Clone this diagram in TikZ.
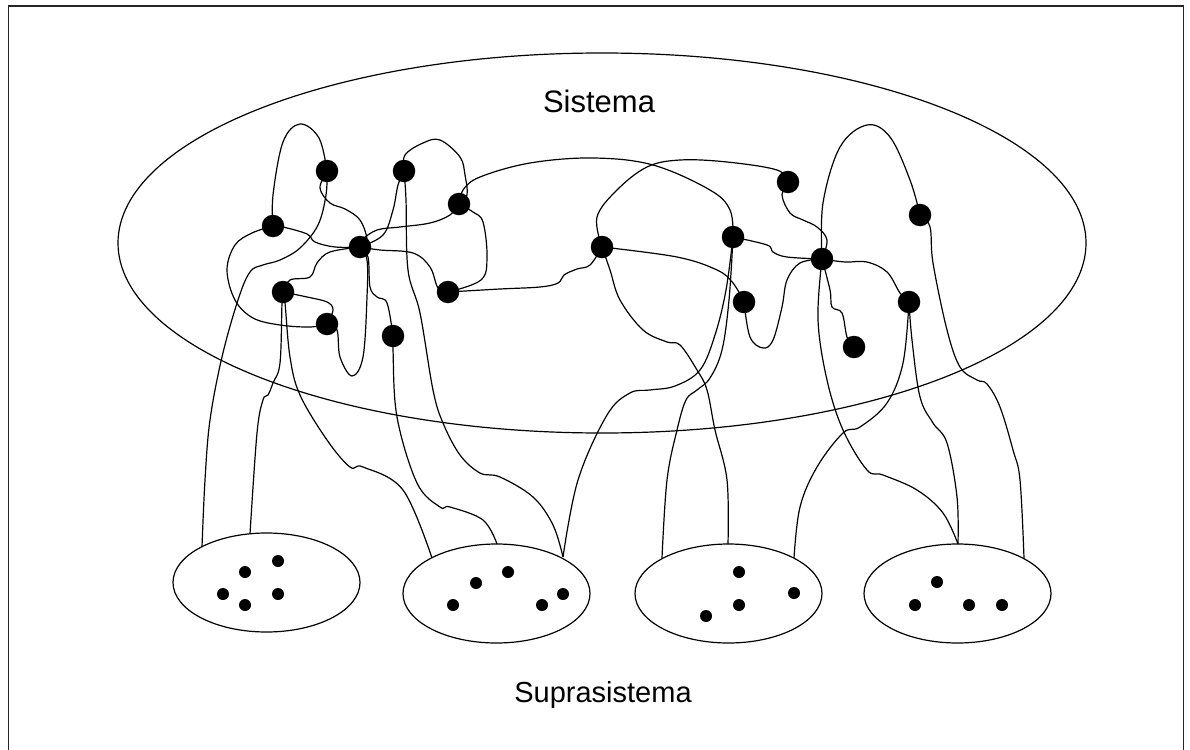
\documentclass[tikz,border=0pt]{standalone}
\usepackage{fontspec}
\setmainfont{Liberation Sans}
\usetikzlibrary{shapes.geometric}
\begin{document}
\begin{tikzpicture}[x=1pt,y=-1pt,
  wire/.style={line width=1.2pt},
  bigdot/.style={circle,fill=black,inner sep=0pt,minimum size=22.5pt},
  smalldot/.style={circle,fill=black,inner sep=0pt,minimum size=12pt},
  cluster/.style={draw,ellipse,line width=1.2pt,inner sep=0pt,minimum width=187pt,minimum height=99pt},
  headline/.style={font=\fontsize{29}{33}\selectfont}]
\useasboundingbox (0,0) rectangle (1190,749);
% outer frame
\draw[line width=1.5pt,black!85] (8.5,760) -- (8.5,6) -- (1183.5,6) -- (1183.5,760);

% the system and the four subsystems of the suprasystem
\node[draw,ellipse,line width=1.2pt,inner sep=0pt,minimum width=968pt,minimum height=380pt] (sys) at (602,243) {};
\node[headline,font=\fontsize{31}{35}\selectfont] (tsys) at (599,101) {Sistema};
\node[headline] (tsup) at (603,695) {Suprasistema};

\node[cluster] (g1) at (266.5,582.5) {};
\node[cluster] (g2) at (496.5,593.5) {};
\node[cluster] (g3) at (728.5,593.5) {};
\node[cluster] (g4) at (957.5,593.5) {};

% attachment points on the subsystems
\coordinate (g1a) at (202,547);
\coordinate (g1b) at (250,534);
\coordinate (g2a) at (432,558);
\coordinate (g2b) at (497,544);
\coordinate (g2c) at (563,557);
\coordinate (g3a) at (662,558);
\coordinate (g3b) at (728,544);
\coordinate (g3c) at (794,558);
\coordinate (g4a) at (958,544);
\coordinate (g4b) at (1024,558);

% element positions
\coordinate (A) at (327,171);
\coordinate (B) at (404,171);
\coordinate (C) at (459,204);
\coordinate (D) at (273,226);
\coordinate (E) at (360,247);
\coordinate (F) at (283,292);
\coordinate (G) at (327,324);
\coordinate (H) at (393,336);
\coordinate (I) at (448,292);
\coordinate (J) at (602,247);
\coordinate (K) at (733,237);
\coordinate (L) at (744,302);
\coordinate (M) at (788,182);
\coordinate (N) at (822,259);
\coordinate (O) at (920,215);
\coordinate (P) at (909,302);
\coordinate (Q) at (854,347);

% relations
\begin{scope}[wire]
\draw plot[smooth,tension=0.6] coordinates {(D) (273,195) (283,142) (300,124) (319,138) (A)};
\draw plot[smooth,tension=0.6] coordinates {(A) (320,188) (330,203) (345,209) (360,220) (367,240) (E)};
\draw plot[smooth,tension=0.6] coordinates {(A) (326,195) (318,225) (300,248) (280,260) (263,265) (250,272) (238,300) (222,357) (210,420) (205,480) (g1a)};
\draw plot[smooth,tension=0.6] coordinates {(D) (283,227) (307,234) (315,242) (335,247) (E)};
\draw plot[smooth,tension=0.6] coordinates {(D) (252,233) (235,245) (227,270) (235,300) (253,318) (280,325) (310,327) (G)};
\draw plot[smooth,tension=0.6] coordinates {(B) (398,185) (393,210) (383,235) (E)};
\draw plot[smooth,tension=0.6] coordinates {(B) (406,200) (408,270) (420,313) (433,390) (443,423) (460,455) (480,473) (500,477) (533,497) (553,525) (g2c)};
\draw plot[smooth,tension=0.6] coordinates {(B) (405,155) (423,143) (440,140) (460,157) (465,175) (467,195) (C)};
\draw plot[smooth,tension=0.6] coordinates {(C) (450,215) (430,223) (400,227) (377,230) (362,240) (E)};
\draw plot[smooth,tension=0.6] coordinates {(C) (463,190) (480,177) (530,163) (593,158) (653,165) (710,190) (730,210) (K)};
\draw plot[smooth,tension=0.6] coordinates {(C) (473,212) (483,222) (487,257) (481,280) (I)};
\draw plot[smooth,tension=0.6] coordinates {(I) (500,289) (540,287) (558,283) (564,275) (577,269) (590,265) (J)};
\draw plot[smooth,tension=0.6] coordinates {(E) (380,250) (413,253) (430,267) (438,288) (I)};
\draw plot[smooth,tension=0.6] coordinates {(J) (597,217) (617,190) (647,167) (680,160) (727,162) (777,170) (M)};
\draw plot[smooth,tension=0.6] coordinates {(J) (677,257) (717,270) (733,283) (L)};
\draw plot[smooth,tension=0.6] coordinates {(J) (610,270) (620,300) (643,330) (667,342) (680,345) (697,370) (707,390) (715,430) (727,480) (g3b)};
\draw plot[smooth,tension=0.6] coordinates {(K) (767,245) (773,252) (787,257) (N)};
\draw plot[smooth,tension=0.6] coordinates {(K) (726,290) (715,335) (700,370) (675,386) (650,390) (630,393) (607,415) (578,480) (g2c)};
\draw plot[smooth,tension=0.6] coordinates {(K) (729,300) (722,350) (710,378) (697,390) (686,400) (677,430) (667,480) (g3a)};
\draw plot[smooth,tension=0.6] coordinates {(L) (750,337) (763,348) (773,340) (782,307) (787,280) (800,263) (N)};
\draw plot[smooth,tension=0.6] coordinates {(M) (782,195) (790,213) (803,220) (817,227) (827,240) (N)};
\draw plot[smooth,tension=0.6] coordinates {(N) (823,203) (840,147) (867,125) (890,137) (910,180) (O)};
\draw plot[smooth,tension=0.6] coordinates {(N) (845,262) (867,262) (887,272) (900,293) (P)};
\draw plot[smooth,tension=0.6] coordinates {(N) (830,290) (832,307) (842,313) (847,337) (Q)};
\draw plot[smooth,tension=0.6] coordinates {(N) (818,320) (827,380) (843,430) (867,470) (883,475) (917,490) (943,513) (g4a)};
\draw plot[smooth,tension=0.6] coordinates {(O) (930,227) (933,263) (947,330) (960,367) (977,380) (987,384) (1000,407) (1013,450) (1020,480) (g4b)};
\draw plot[smooth,tension=0.6] coordinates {(P) (903,363) (887,403) (860,427) (843,433) (817,467) (800,507) (g3c)};
\draw plot[smooth,tension=0.6] coordinates {(P) (912,340) (920,397) (933,423) (947,443) (957,497) (g4a)};
\draw plot[smooth,tension=0.6] coordinates {(E) (368,257) (370,287) (377,297) (387,303) (H)};
\draw plot[smooth,tension=0.6] coordinates {(H) (393,350) (397,417) (417,483) (440,507) (450,507) (483,520) (g2b)};
\draw plot[smooth,tension=0.6] coordinates {(G) (337,330) (340,357) (352,376) (363,357) (367,297) (367,260) (E)};
\draw plot[smooth,tension=0.6] coordinates {(E) (330,252) (317,263) (310,277) (290,280) (F)};
\draw plot[smooth,tension=0.6] coordinates {(F) (307,297) (327,302) (333,310) (G)};
\draw plot[smooth,tension=0.6] coordinates {(F) (282,303) (280,363) (273,383) (268,395) (263,400) (257,433) (g1b)};
\draw plot[smooth,tension=0.6] coordinates {(F) (285,303) (290,357) (300,395) (327,440) (350,467) (363,467) (403,490) (g2a)};
\end{scope}

% elements of the system
\foreach \p in {A,B,C,D,E,F,G,H,I,J,K,L,M,N,O,P,Q}
  \node[bigdot] (d\p) at (\p) {};

% elements of the subsystems
\node[smalldot] (s11) at (278,561) {};
\node[smalldot] (s12) at (245,572) {};
\node[smalldot] (s13) at (223,594) {};
\node[smalldot] (s14) at (245,605) {};
\node[smalldot] (s15) at (278,594) {};
\node[smalldot] (s21) at (508,572) {};
\node[smalldot] (s22) at (476,583) {};
\node[smalldot] (s23) at (453,605) {};
\node[smalldot] (s24) at (542,605) {};
\node[smalldot] (s25) at (563,594) {};
\node[smalldot] (s31) at (739,572) {};
\node[smalldot] (s32) at (739,605) {};
\node[smalldot] (s33) at (706,616) {};
\node[smalldot] (s34) at (794,593) {};
\node[smalldot] (s41) at (937,582) {};
\node[smalldot] (s42) at (915,605) {};
\node[smalldot] (s43) at (969,605) {};
\node[smalldot] (s44) at (1002,605) {};
\end{tikzpicture}
\end{document}
